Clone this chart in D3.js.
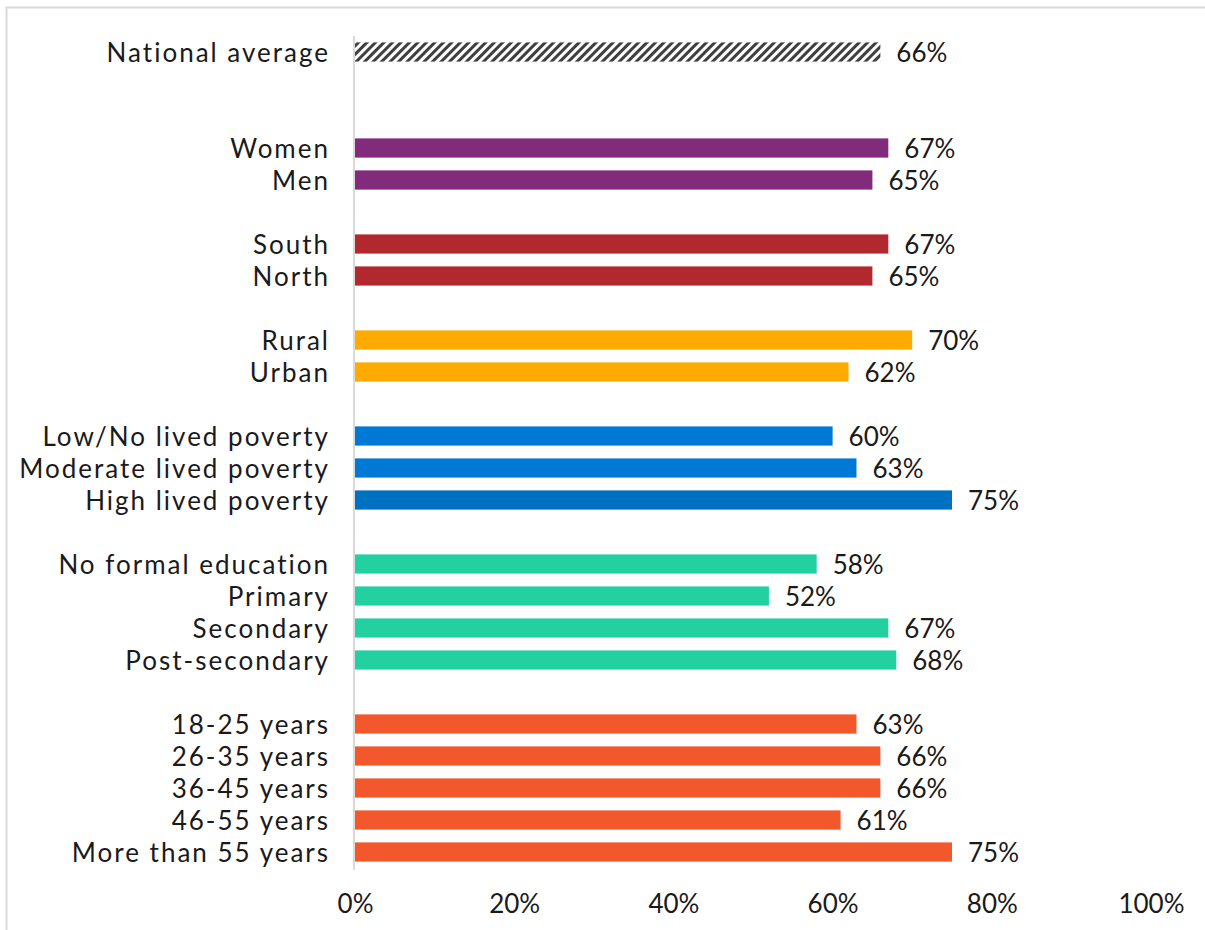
<!DOCTYPE html>
<html>
<head>
<meta charset="utf-8">
<script src="https://cdn.jsdelivr.net/npm/d3@7"></script>
<style>
  html, body { margin: 0; padding: 0; background: #fff; }
  svg { display: block; }
  text { font-family: Lato, "Open Sans", sans-serif; fill: #1a1a1a; }
</style>
</head>
<body>
<svg id="chart" width="1205" height="930"></svg>
<script>
// Share of respondents, by subgroup
const categories = [
  "National average",
  "Women", "Men",
  "South", "North",
  "Rural", "Urban",
  "Low/No lived poverty", "Moderate lived poverty", "High lived poverty",
  "No formal education", "Primary", "Secondary", "Post-secondary",
  "18-25 years", "26-35 years", "36-45 years", "46-55 years", "More than 55 years"
];
const values = [66, 67, 65, 67, 65, 70, 62, 60, 63, 75, 58, 52, 67, 68, 63, 66, 66, 61, 75];
const groups = [
  "average",
  "gender", "gender",
  "region", "region",
  "location", "location",
  "poverty", "poverty", "poverty",
  "education", "education", "education", "education",
  "age", "age", "age", "age", "age"
];
const tickValues = [0, 20, 40, 60, 80, 100];

const groupColor = {
  gender: "#822A7B",
  region: "#B1282F",
  location: "#FFAA00",
  poverty: "#0078D6",
  education: "#23D1A0",
  age: "#F2582B"
};
const highlightColor = { "High lived poverty": "#0070C0" };

const rows = categories.map((c, i) => ({ category: c, value: values[i], group: groups[i] }));

// Row slots: blank slots separate the groups (two after the national average)
const slots = [];
rows.forEach((r, i) => {
  if (i > 0 && r.group !== rows[i - 1].group) {
    const gaps = rows[i - 1].group === "average" ? 2 : 1;
    for (let g = 0; g < gaps; g++) slots.push("gap-" + i + "-" + g);
  }
  slots.push(r.category);
});

const svg = d3.select("#chart");
const W = 1205, H = 930;

// outer frame
svg.append("rect")
  .attr("x", 6.5).attr("y", 7.5)
  .attr("width", W).attr("height", H)
  .attr("fill", "#fff")
  .attr("stroke", "#d9d9d9").attr("stroke-width", 2);

const x = d3.scaleLinear().domain([0, 100]).range([355, 1151]);
const y = d3.scaleBand().domain(slots).range([36, 868])
  .paddingInner(0.4).paddingOuter(0.2);

// diagonal hatch for the national average
const defs = svg.append("defs");
const pat = defs.append("pattern")
  .attr("id", "hatch")
  .attr("patternUnits", "userSpaceOnUse")
  .attr("width", 6).attr("height", 6)
  .attr("patternTransform", "rotate(45)");
pat.append("rect").attr("width", 6).attr("height", 6).attr("fill", "#fff");
pat.append("rect").attr("x", 0).attr("width", 3).attr("height", 6).attr("fill", "#3f3f3f");

const fontSize = 26;

// bars
svg.append("g").selectAll("rect")
  .data(rows)
  .join("rect")
  .attr("x", x(0))
  .attr("y", d => y(d.category))
  .attr("width", d => x(d.value) - x(0))
  .attr("height", y.bandwidth())
  .attr("fill", d => d.group === "average" ? "url(#hatch)" : (highlightColor[d.category] || groupColor[d.group]));

// category axis line
svg.append("line")
  .attr("x1", 354).attr("x2", 354)
  .attr("y1", 36).attr("y2", 870)
  .attr("stroke", "#d9d9d9").attr("stroke-width", 2);

// category labels
svg.append("g").selectAll("text")
  .data(rows)
  .join("text")
  .attr("x", 330)
  .attr("y", d => y(d.category) + y.bandwidth() / 2 + 9.5)
  .attr("text-anchor", "end")
  .style("font-size", fontSize + "px")
  .style("letter-spacing", "2px")
  .text(d => d.category);

// value labels
svg.append("g").selectAll("text")
  .data(rows)
  .join("text")
  .attr("x", d => x(d.value) + 16)
  .attr("y", d => y(d.category) + y.bandwidth() / 2 + 10)
  .style("font-size", fontSize + "px")
  .text(d => d.value + "%");

// value axis
const xAxis = d3.axisBottom(x)
  .tickValues(tickValues)
  .tickFormat(d => d + "%")
  .tickSize(0)
  .tickPadding(9);
const gx = svg.append("g").attr("transform", "translate(0,886)").call(xAxis);
gx.select(".domain").remove();
gx.selectAll("text")
  .style("font-size", fontSize + "px")
  .style("font-family", "Lato, 'Open Sans', sans-serif")
  .attr("fill", "#1a1a1a");
</script>
</body>
</html>
